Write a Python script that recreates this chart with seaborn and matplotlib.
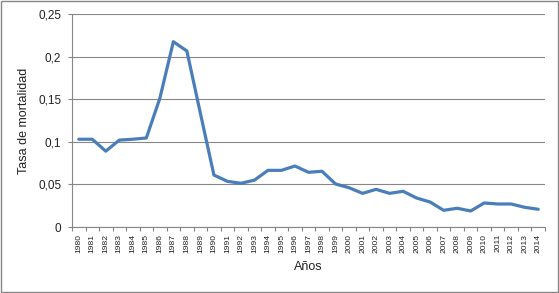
import matplotlib
matplotlib.use("Agg")
import matplotlib.pyplot as plt
import seaborn as sns
import pandas as pd
from matplotlib.ticker import FixedLocator

years = [str(y) for y in range(1980, 2015)]
tasa = [0.103, 0.103, 0.089, 0.102, 0.103, 0.1045, 0.151, 0.2175, 0.2066, 0.1335,
        0.061, 0.0536, 0.0513, 0.055, 0.0665, 0.0665, 0.0716, 0.0642, 0.0654, 0.0505,
        0.0461, 0.0395, 0.0442, 0.0395, 0.0419, 0.034, 0.0293, 0.0196, 0.022, 0.0188,
        0.0282, 0.027, 0.027, 0.0231, 0.0208]
yticks = [0, 0.05, 0.1, 0.15, 0.2, 0.25]
ytick_labels = ["0", "0,05", "0,1", "0,15", "0,2", "0,25"]

df = pd.DataFrame({"Año": years, "Tasa": tasa})

sns.set_theme(style="white")
plt.rcParams['font.family'] = ['Liberation Sans', 'DejaVu Sans']

fig = plt.figure(figsize=(5.59, 2.93), dpi=100)
ax = fig.add_axes([72/559, 1-227/293, 473/559, 213/293])

sns.lineplot(data=df, x="Año", y="Tasa", ax=ax, color="#4A7EBB", linewidth=2.3, sort=False)

ax.set_xlim(-0.5, len(years) - 0.5)
ax.set_ylim(0, 0.25)
ax.set_yticks(yticks)
ax.set_yticklabels(ytick_labels, fontsize=8.5, color="#222222")
ax.set_xticks(range(len(years)))
ax.set_xticklabels(years, rotation=90, fontsize=6.1, color="#222222")
ax.tick_params(axis='x', which='major', length=0, pad=5)
ax.xaxis.set_minor_locator(FixedLocator([i - 0.5 for i in range(len(years) + 1)]))
ax.tick_params(axis='x', which='minor', length=3, color="#868686", width=0.8, bottom=True)
ax.tick_params(axis='y', which='major', length=2.7, color="#868686", width=0.8, left=True, pad=5)

ax.grid(axis='y', color="#868686", linewidth=0.8)
ax.set_axisbelow(True)
for s in ["top", "right"]:
    ax.spines[s].set_visible(False)
for s in ["left", "bottom"]:
    ax.spines[s].set_color("#868686")
    ax.spines[s].set_linewidth(0.8)

ax.set_xlabel("Años", fontsize=9, labelpad=6, color="#222222")
ax.set_ylabel("Tasa de mortalidad", fontsize=9, labelpad=6, color="#222222")

fig.patches.append(plt.Rectangle((0.001, 0.002), 0.997, 0.995, transform=fig.transFigure,
                                 fill=False, edgecolor="#868686", linewidth=1.0))

fig.savefig("out.png", dpi=100)
